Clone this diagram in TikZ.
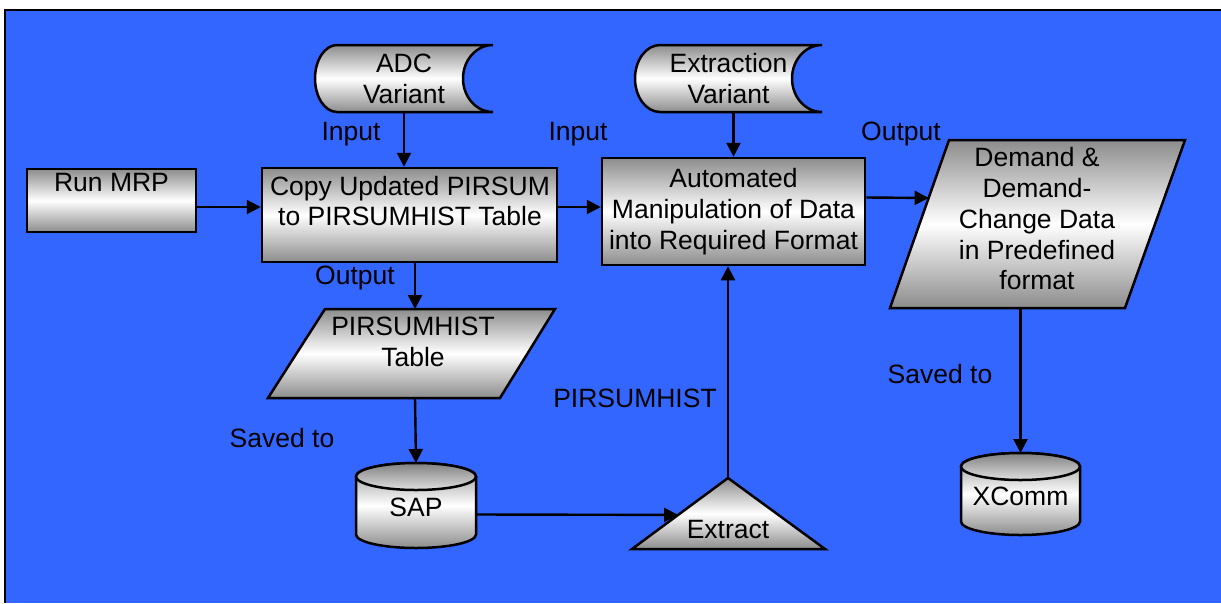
\documentclass[tikz,border=0pt]{standalone}
\usepackage{fontspec}
\setmainfont{Liberation Sans}
\usetikzlibrary{arrows.meta,calc}
\definecolor{bgblue}{HTML}{3366FF}
\tikzset{
  flow/.style={draw=black, line width=2.5pt, top color=black!45, bottom color=black!45, middle color=white},
  lid/.style={draw=black, line width=2.5pt, top color=black!50, bottom color=black!12},
  arr/.style={line width=2.4pt, -{Triangle[length=14pt,width=14pt]}},
}

\begin{document}
\begin{tikzpicture}[x=1pt, y=-1pt, every node/.style={font=\fontsize{26.5}{30.75}\selectfont, inner sep=0pt, align=center}]
			%%%%% START %%%%%
			\useasboundingbox (0,0) rectangle (1221,603);
			
			\fill[bgblue] (5,10) rectangle (1221,603);
			\draw[line width=2.5pt] (5,603) -- (5,10) -- (1221,10);
			
			% variants
			\draw[flow] (493,45) -- (337,45) arc[start angle=90, end angle=270, x radius=22pt, y radius=33.5pt] -- (493,112) arc[start angle=270, end angle=90, x radius=30pt, y radius=33.5pt] -- cycle;
			\node[minimum width=178pt, minimum height=67pt] (adc) at (404,78.5) {ADC\\Variant};
			
			\draw[flow] (822,45) -- (660,45) arc[start angle=90, end angle=270, x radius=25pt, y radius=33.5pt] -- (822,112) arc[start angle=270, end angle=90, x radius=30pt, y radius=33.5pt] -- cycle;
			\node[minimum width=187pt, minimum height=67pt] (extr) at (728.5,78.5) {Extraction\\Variant};
			
			% boxes
			\node[flow, minimum width=169pt, minimum height=63pt] (run) at (111.5,200.5) {};
			\node (run-t) at (111.5,183) {Run MRP};
			
			\node[flow, minimum width=295pt, minimum height=94pt] (copy) at (409.5,215) {};
			\node (copy-t) at (410,201) {Copy Updated PIRSUM\\to PIRSUMHIST Table};
			
			\node[flow, minimum width=263pt, minimum height=107pt] (auto) at (733.5,211.5) {Automated\\Manipulation of Data\\into Required Format};
			
			% data
			\draw[flow] (890,308) -- (949,140) -- (1185,140) -- (1125,308) -- cycle;
			\node (dem) at (1037,219) {Demand \&\\Demand-\\Change Data\\in Predefined\\format};
			\coordinate (dem-in) at ($(890,308)!0.655!(949,140)$);
			\coordinate (dem-bot) at (1007.5,308);
			
			\draw[flow] (268,398) -- (325,309) -- (555,309) -- (500,398) -- cycle;
			\node (tab) at (413,341.5) {PIRSUMHIST\\Table};
			\coordinate (tab-top) at (415,309);
			\coordinate (tab-bot) at (415,398);
			
			% databases
			\draw[flow] (356,476.5) -- (356,534.5) arc[start angle=180, end angle=360, x radius=60pt, y radius=13.5pt] -- (476,476.5) arc[start angle=0, end angle=180, x radius=60pt, y radius=13.5pt] -- cycle;
			\draw[lid] (416,476.5) ellipse[x radius=60pt, y radius=13.5pt];
			\node[minimum width=120pt, minimum height=85pt] (sap) at (416,507) {SAP};
			
			\draw[flow] (961,466.5) -- (961,521.5) arc[start angle=180, end angle=360, x radius=59.5pt, y radius=13.5pt] -- (1080,466.5) arc[start angle=0, end angle=180, x radius=59.5pt, y radius=13.5pt] -- cycle;
			\draw[lid] (1020.5,466.5) ellipse[x radius=59.5pt, y radius=13.5pt];
			\node[minimum width=119pt, minimum height=82pt] (xcomm) at (1020.5,496) {XComm};
			
			% extract
			\draw[flow] (728,478) -- (825,549) -- (632,549) -- cycle;
			\node (extract) at (728,530) {Extract};
			\coordinate (ex-top) at (728,478);
			\coordinate (ex-in) at ($(632,549)!0.48!(728,478)$);
			
			% arrows
			\draw[arr] (adc.south) -- (adc.south |- copy.north);
			\draw[arr] (auto.north |- extr.south) -- (auto.north);
			\draw[arr] ([yshift=-6.5pt]run.east) -- ([yshift=-6.5pt]run.east -| copy.west);
			\draw[arr] ([yshift=8pt]copy.east) -- ([yshift=8pt]copy.east -| auto.west);
			\draw[arr] ([yshift=14pt]auto.east) -- (dem-in);
			\draw[arr] (copy.south -| tab-top) -- (tab-top);
			\draw[arr] (tab-bot) -- (sap.north |- 0,463);
			\draw[arr] ([yshift=-7.5pt]sap.east) -- (ex-in);
			\draw[arr] (ex-top) -- (ex-top |- auto.south);
			\draw[arr] (xcomm.north |- dem-bot) -- (xcomm.north |- 0,453);
			
			% labels
			\node (in-adc) at (351,134) {Input};
			\node (in-extr) at (578,134) {Input};
			\node (out-dem) at (901,134) {Output};
			\node (out-tab) at (355,278) {Output};
			\node (pirs) at (635,398) {PIRSUMHIST};
			\node (save-sap) at (282,438) {Saved to};
			\node (save-xc) at (940,374) {Saved to};
			
			%%%%% END %%%%%
\end{tikzpicture}
\end{document}
